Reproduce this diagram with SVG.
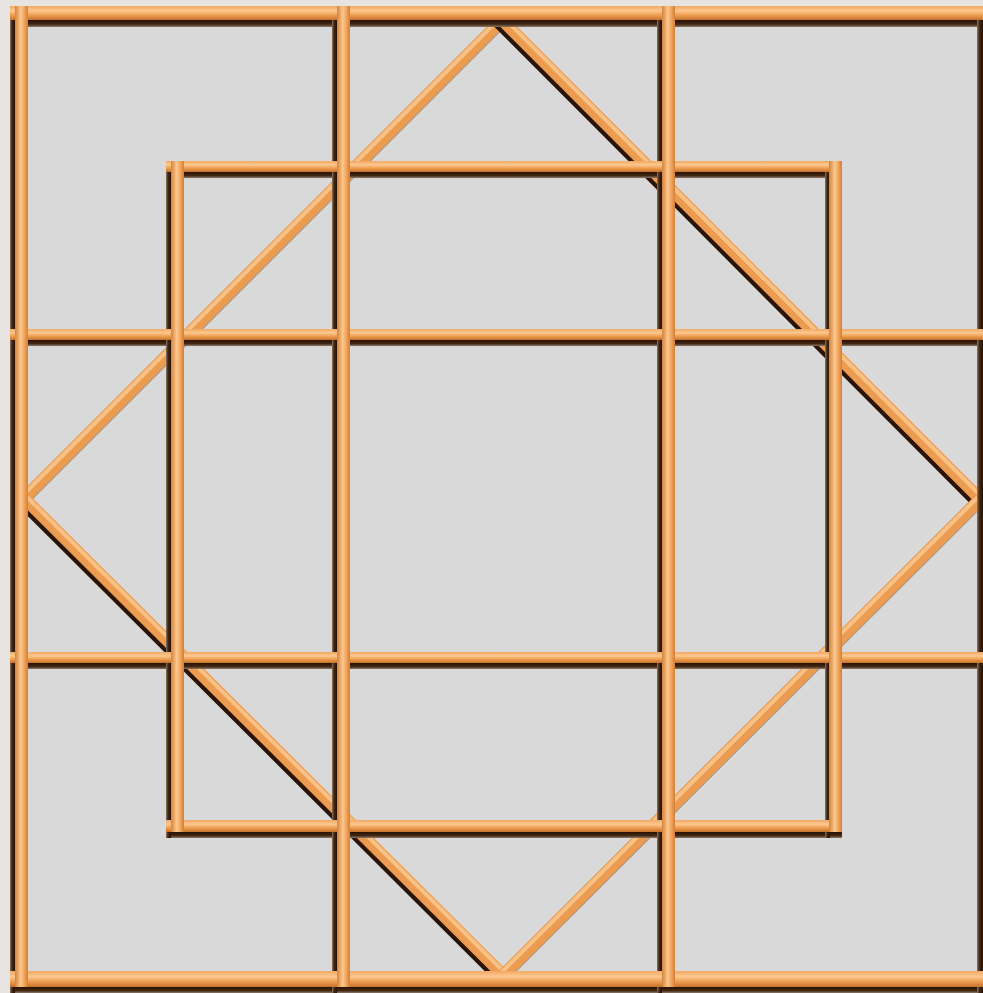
<svg xmlns="http://www.w3.org/2000/svg" width="983" height="993" viewBox="0 0 983 993">
<style>
.dsh{stroke:#2a1406;stroke-width:9;stroke-linecap:round;fill:none}
.dshl{stroke:#8a5a30;stroke-width:6;stroke-linecap:round;fill:none;opacity:0.5}
.dor{stroke:#eb9c50;stroke-width:12;stroke-linecap:round;fill:none}
.dhi{stroke:#fcc88e;stroke-width:4;stroke-linecap:round;fill:none;opacity:0.85}
.hs{fill:url(#sh)}
.vs{fill:url(#sv)}
.ho{fill:url(#gh)}
.vo{fill:url(#gv)}
</style>
<defs>
<linearGradient id="gh" x1="0" y1="0" x2="0" y2="1">
<stop offset="0" stop-color="#f2a862"/>
<stop offset="0.35" stop-color="#fcc890"/>
<stop offset="0.65" stop-color="#ef9e52"/>
<stop offset="1" stop-color="#c5722b"/>
</linearGradient>
<linearGradient id="gv" x1="0" y1="0" x2="1" y2="0">
<stop offset="0" stop-color="#d4843a"/>
<stop offset="0.45" stop-color="#fcc890"/>
<stop offset="0.75" stop-color="#f0a055"/>
<stop offset="1" stop-color="#cf7f37"/>
</linearGradient>
<linearGradient id="sh" x1="0" y1="0" x2="0" y2="1">
<stop offset="0" stop-color="#251104"/>
<stop offset="0.6" stop-color="#442812"/>
<stop offset="1" stop-color="#8c7868"/>
</linearGradient>
<linearGradient id="sv" x1="0" y1="0" x2="1" y2="0">
<stop offset="0" stop-color="#8c7868"/>
<stop offset="0.4" stop-color="#442812"/>
<stop offset="1" stop-color="#251104"/>
</linearGradient>
</defs>
<rect width="983" height="993" fill="#e6e3e0"/>
<rect x="10" y="6" width="973" height="987" fill="#d9d9d9"/>
<g id="diagonals">
<line class="dshl" x1="505" y1="23" x2="27" y2="501"/>
<line class="dor" x1="502" y1="20" x2="24" y2="498"/>
<line class="dhi" x1="500" y1="18" x2="22" y2="496"/>
<line class="dsh" x1="498" y1="24" x2="976" y2="503"/>
<line class="dor" x1="502" y1="20" x2="980" y2="499"/>
<line class="dhi" x1="504" y1="18" x2="982" y2="497"/>
<line class="dsh" x1="20" y1="502" x2="499" y2="979"/>
<line class="dor" x1="24" y1="498" x2="503" y2="975"/>
<line class="dhi" x1="26" y1="496" x2="505" y2="973"/>
<line class="dshl" x1="983" y1="502" x2="506" y2="978"/>
<line class="dor" x1="980" y1="499" x2="503" y2="975"/>
<line class="dhi" x1="978" y1="497" x2="501" y2="973"/>
</g>
<g id="shadows">
<rect class="hs" x="10" y="20" width="973" height="7"/>
<rect class="hs" x="166" y="172" width="676" height="6"/>
<rect class="hs" x="10" y="340" width="973" height="6"/>
<rect class="hs" x="10" y="663" width="973" height="6"/>
<rect class="hs" x="166" y="832" width="676" height="6"/>
<rect class="hs" x="10" y="987" width="973" height="6"/>
<rect class="vs" x="10" y="6" width="5" height="987"/>
<rect class="vs" x="332" y="6" width="5" height="987"/>
<rect class="vs" x="657" y="6" width="5" height="987"/>
<rect class="vs" x="166" y="161" width="5" height="677"/>
<rect class="vs" x="825" y="161" width="5" height="677"/>
<rect class="vs" x="977" y="6" width="6" height="987"/>
</g>
<g id="rods">
<rect id="outer-top" class="ho" x="10" y="6" width="973" height="14"/>
<rect id="inner-top" class="ho" x="166" y="161" width="676" height="11"/>
<rect id="row-1" class="ho" x="10" y="329" width="973" height="11"/>
<rect id="row-2" class="ho" x="10" y="652" width="973" height="11"/>
<rect id="inner-bottom" class="ho" x="166" y="820" width="676" height="12"/>
<rect id="outer-bottom" class="ho" x="10" y="971" width="973" height="16"/>
<rect id="outer-left" class="vo" x="15" y="6" width="13" height="981"/>
<rect id="col-1" class="vo" x="337" y="6" width="13" height="981"/>
<rect id="col-2" class="vo" x="662" y="6" width="13" height="981"/>
<rect id="inner-left" class="vo" x="171" y="161" width="13" height="671"/>
<rect id="inner-right" class="vo" x="829" y="161" width="13" height="671"/>
</g>
</svg>
